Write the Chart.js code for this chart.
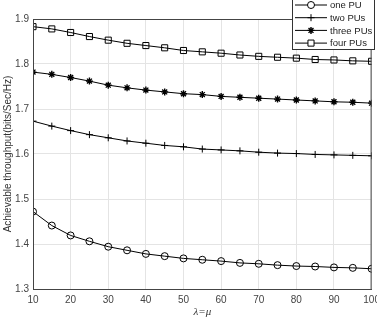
<!DOCTYPE html>
<html>
<head>
<meta charset="utf-8">
<script src="https://cdn.jsdelivr.net/npm/chart.js@4/dist/chart.umd.min.js"></script>
<style>
  html, body { margin: 0; padding: 0; background: #fff; }
  #wrap { width: 377px; height: 320px; }
</style>
</head>
<body>
<div id="wrap"><canvas id="graph"></canvas></div>
<script>
// x axis: lambda = mu
const lambdaVals = [10, 15, 20, 25, 30, 35, 40, 45, 50, 55, 60, 65, 70, 75, 80, 85, 90, 95, 100];

// throughput
const onePU    = [1.472, 1.441, 1.419, 1.406, 1.394, 1.386, 1.378, 1.373, 1.368, 1.365, 1.362, 1.358, 1.356, 1.353, 1.351, 1.350, 1.348, 1.347, 1.345];
const twoPUs   = [1.673, 1.662, 1.652, 1.643, 1.636, 1.629, 1.624, 1.619, 1.616, 1.611, 1.609, 1.607, 1.604, 1.602, 1.601, 1.599, 1.598, 1.597, 1.596];
const threePUs = [1.782, 1.777, 1.770, 1.762, 1.753, 1.747, 1.742, 1.738, 1.734, 1.732, 1.728, 1.726, 1.724, 1.722, 1.720, 1.718, 1.716, 1.715, 1.713];
const fourPUs  = [1.883, 1.878, 1.870, 1.861, 1.853, 1.846, 1.841, 1.836, 1.830, 1.827, 1.824, 1.820, 1.817, 1.815, 1.813, 1.810, 1.809, 1.807, 1.806];

const seriesNames = ['one PU', 'two PUs', 'three PUs', 'four PUs'];
const yTicks = [1.3, 1.4, 1.5, 1.6, 1.7, 1.8, 1.9];
const xTicks = [10, 20, 30, 40, 50, 60, 70, 80, 90, 100];

const markers = [
  { pointStyle: 'circle', radius: 3.5, borderWidth: 1 },
  { pointStyle: 'cross', radius: 3.5, borderWidth: 1 },
  { pointStyle: 'star', radius: 3.5, borderWidth: 1.4 },
  { pointStyle: 'rect', radius: 4.3, borderWidth: 1 }
];

function makeSet(i, vals) {
  return {
    label: seriesNames[i],
    data: lambdaVals.map((x, k) => ({ x: x, y: vals[k] })),
    borderColor: '#000',
    backgroundColor: 'rgba(0,0,0,0)',
    borderWidth: 1,
    pointStyle: markers[i].pointStyle,
    pointRadius: markers[i].radius,
    pointBorderWidth: markers[i].borderWidth,
    pointBorderColor: '#000',
    pointBackgroundColor: 'rgba(0,0,0,0)',
    tension: 0
  };
}

// box round the plot + legend drawn over the top right, like matlab
const boxAndLegend = {
  id: 'boxAndLegend',
  afterDraw(chart) {
    const ctx = chart.ctx;
    const a = chart.chartArea;
    ctx.save();
    ctx.strokeStyle = '#444';
    ctx.lineWidth = 1;
    ctx.strokeRect(a.left + 0.5, a.top + 0.5, a.right - a.left - 1, a.bottom - a.top);

    // legend
    const lx = 292, ly = -2, lw = 83, lh = 52;
    ctx.fillStyle = '#fff';
    ctx.fillRect(lx, ly, lw, lh);
    ctx.strokeStyle = '#333';
    ctx.strokeRect(lx + 0.5, ly + 0.5, lw - 1, lh - 1);
    ctx.font = '9.5px Arial, "Liberation Sans", sans-serif';
    ctx.textBaseline = 'middle';
    chart.data.datasets.forEach((ds, i) => {
      const y = 5 + i * 12.7;
      ctx.strokeStyle = '#000';
      ctx.lineWidth = 1;
      ctx.beginPath();
      ctx.moveTo(295, y);
      ctx.lineTo(327, y);
      ctx.stroke();
      ctx.fillStyle = '#fff';
      ctx.lineWidth = markers[i].borderWidth;
      Chart.helpers.drawPoint(ctx, {
        pointStyle: markers[i].pointStyle,
        radius: markers[i].radius,
        rotation: 0,
        borderWidth: markers[i].borderWidth
      }, 311, y);
      ctx.fillStyle = '#222';
      ctx.fillText(ds.label, 330, y + 0.5);
    });
    ctx.restore();
  }
};

new Chart(document.getElementById('graph'), {
  type: 'line',
  data: {
    datasets: [
      makeSet(0, onePU),
      makeSet(1, twoPUs),
      makeSet(2, threePUs),
      makeSet(3, fourPUs)
    ]
  },
  options: {
    responsive: true,
    maintainAspectRatio: false,
    animation: false,
    layout: { padding: { top: 19, right: 2, left: 0, bottom: 0 } },
    plugins: { legend: { display: false }, tooltip: { enabled: false } },
    scales: {
      x: {
        type: 'linear',
        min: 10,
        max: 100,
        afterBuildTicks(scale) { scale.ticks = xTicks.map(v => ({ value: v })); },
        afterFit(scale) { scale.height = 31; scale.paddingLeft = 0; scale.paddingRight = 0; },
        grid: { color: '#e4e4e4', drawTicks: false },
        border: { color: '#555' },
        ticks: {
          color: '#444',
          font: { family: 'Arial, "Liberation Sans", sans-serif', size: 10 },
          padding: 5,
          maxRotation: 0,
          autoSkip: false
        },
        title: {
          display: true,
          text: 'λ=μ',
          color: '#333',
          font: { family: '"Times New Roman", "Liberation Serif", serif', size: 11, style: 'italic' },
          padding: { top: 0, bottom: 1 }
        }
      },
      y: {
        type: 'linear',
        min: 1.3,
        max: 1.9,
        afterBuildTicks(scale) { scale.ticks = yTicks.map(v => ({ value: v })); },
        afterFit(scale) { scale.width = 33; },
        grid: { color: '#e4e4e4', drawTicks: false },
        border: { color: '#555' },
        ticks: {
          color: '#444',
          font: { family: 'Arial, "Liberation Sans", sans-serif', size: 10 },
          padding: 4,
          callback: v => v.toFixed(1)
        },
        title: {
          display: true,
          text: 'Achievable throughput(bits/Sec/Hz)',
          color: '#333',
          font: { family: 'Arial, "Liberation Sans", sans-serif', size: 10 },
          padding: { top: 2, bottom: 0 }
        }
      }
    }
  },
  plugins: [boxAndLegend]
});
</script>
</body>
</html>
